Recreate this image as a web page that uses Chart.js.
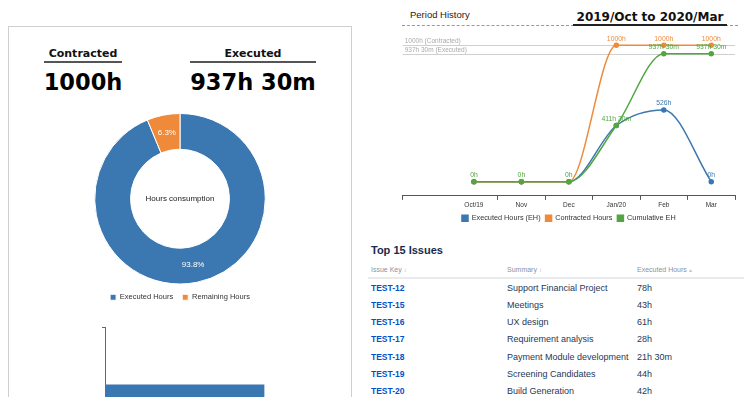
<!DOCTYPE html>
<html>
<head>
<meta charset="utf-8">
<script src="https://cdn.jsdelivr.net/npm/chart.js@4"></script>
<style>
  html, body { margin: 0; padding: 0; background: #fff; }
  body { width: 744px; height: 397px; overflow: hidden; position: relative; font-family: "Liberation Sans", Arial, sans-serif; }
  .abs { position: absolute; white-space: nowrap; height: 14px; line-height: 14px; }
  .panel { position: absolute; left: 8px; top: 26px; width: 342px; height: 420px; border: 1px solid #cfcfcf; }
  .kpiHead { font-family: "DejaVu Sans", sans-serif; font-weight: bold; font-size: 11px; color: #111; text-align: center; }
  .kpiVal { font-family: "DejaVu Sans", sans-serif; font-weight: bold; font-size: 22.5px; color: #000; text-align: center; height: 30px; line-height: 30px; }
  .rule { position: absolute; height: 2px; background: #555; }
  .th { font-size: 7px; color: #8993a4; }
  .th i { font-style: normal; color: #c1c7d0; font-size: 6px; }
  .key { font-size: 8.5px; color: #0052cc; font-weight: bold; }
  .cell { font-size: 9px; color: #253858; }
</style>
</head>
<body>
<div class="panel"></div>

<div class="abs kpiHead" style="left:33px;width:100px;top:47px;">Contracted</div>
<div class="rule" style="left:44px;width:78px;top:61px;"></div>
<div class="abs kpiVal" style="left:23px;width:120px;top:67px;" id="contractedTotal"></div>

<div class="abs kpiHead" style="left:193px;width:120px;top:47px;">Executed</div>
<div class="rule" style="left:190px;width:126px;top:61px;"></div>
<div class="abs kpiVal" style="left:173px;width:160px;top:67px;" id="executedTotal"></div>

<canvas id="consumptionChart" class="abs" width="220" height="198" style="left:70px;top:113px;height:198px;"></canvas>
<canvas id="membersChart" class="abs" width="175" height="200" style="left:100px;top:322px;height:200px;"></canvas>

<div class="abs" style="left:410px;top:8px;font-size:9.5px;color:#222;">Period History</div>
<div class="abs" style="left:402px;top:25px;width:336px;height:0;border-top:1px dashed #999;"></div>
<div class="abs" style="left:572px;top:10px;width:156px;text-align:center;font-family:'DejaVu Sans',sans-serif;font-weight:bold;font-size:12px;color:#111;">2019/Oct to 2020/Mar</div>
<div class="rule" style="left:573px;width:154px;top:24px;background:#222;"></div>

<canvas id="historyChart" class="abs" width="352" height="204" style="left:392px;top:28px;height:204px;"></canvas>

<div class="abs" style="left:371px;top:243px;font-size:11px;font-weight:bold;color:#172b4d;">Top 15 Issues</div>
<div class="abs th" style="left:371px;top:263px;">Issue Key <i>↕</i></div>
<div class="abs th" style="left:507px;top:263px;">Summary <i>↕</i></div>
<div class="abs th" style="left:637px;top:263px;">Executed Hours <i>▴</i></div>
<div class="abs" style="left:368px;top:277px;width:380px;height:0;border-top:2px solid #e8eaee;"></div>
<div id="issueRows"></div>

<script>
// Values
const contractedTotal = 1000;
const executedTotal = 937.5;

const consumptionLabels = ['Executed Hours', 'Remaining Hours'];
const consumptionValues = [937.5, 62.5];

// first slot is an empty lead-in column, like the original axis
const months = ['', 'Oct/19', 'Nov', 'Dec', 'Jan/20', 'Feb', 'Mar'];
const executedHours = [null, 0, 0, 0, 411.5, 526, 0];
const contractedHours = [null, 0, 0, 0, 1000, 1000, 1000];
const cumulativeHours = [null, 0, 0, 0, 411.5, 937.5, 937.5];
const referenceValues = [1000, 937.5];
const referenceNames = ['Contracted', 'Executed'];

const issueKeys = ['TEST-12', 'TEST-15', 'TEST-16', 'TEST-17', 'TEST-18', 'TEST-19', 'TEST-20'];
const issueSummaries = ['Support Financial Project', 'Meetings', 'UX design', 'Requirement analysis',
    'Payment Module development', 'Screening Candidates', 'Build Generation'];
const issueHours = [78, 43, 61, 28, 21.5, 44, 42];

const blue = '#3b77b0';
const orange = '#ef8a3a';
const green = '#52a640';
const chartFont = '"Liberation Sans", Arial, sans-serif';

// 411.5 -> "411h 30m"
function fmtHours(v) {
    const h = Math.floor(v);
    const m = Math.round((v - h) * 60);
    return m ? `${h}h ${m}m` : `${h}h`;
}

document.getElementById('contractedTotal').textContent = fmtHours(contractedTotal);
document.getElementById('executedTotal').textContent = fmtHours(executedTotal);

// Table rows
const rowsBox = document.getElementById('issueRows');
issueKeys.forEach((key, i) => {
    const top = 280.5 + i * 17.3;
    rowsBox.innerHTML += `
        <div class="abs key" style="left:371px;top:${top}px;">${key}</div>
        <div class="abs cell" style="left:507px;top:${top}px;">${issueSummaries[i]}</div>
        <div class="abs cell" style="left:637px;top:${top}px;">${fmtHours(issueHours[i])}</div>`;
});

// Doughnut: centre text and percentages
const donutText = {
    id: 'donutText',
    afterDatasetsDraw(chart) {
        const c = chart.ctx;
        const meta = chart.getDatasetMeta(0);
        const total = consumptionValues.reduce((a, b) => a + b, 0);
        c.save();
        c.textAlign = 'center';
        c.textBaseline = 'middle';
        c.font = `8px ${chartFont}`;
        c.fillStyle = '#fff';
        meta.data.forEach((arc, i) => {
            const p = arc.tooltipPosition();
            c.fillText((consumptionValues[i] / total * 100).toFixed(1) + '%', p.x, p.y);
        });
        const first = meta.data[0];
        c.fillStyle = '#222';
        c.fillText('Hours consumption', first.x, first.y);
        c.restore();
    }
};

new Chart(document.getElementById('consumptionChart'), {
    type: 'doughnut',
    data: {
        labels: consumptionLabels,
        datasets: [{
            data: consumptionValues,
            backgroundColor: [blue, orange],
            borderColor: '#fff',
            borderWidth: 1
        }]
    },
    options: {
        responsive: false,
        animation: false,
        cutout: '58%',
        plugins: {
            legend: {
                position: 'bottom',
                labels: { boxWidth: 6, boxHeight: 6, padding: 9, color: '#333', font: { size: 7.5, family: chartFont } }
            },
            tooltip: { enabled: false }
        }
    },
    plugins: [donutText]
});

// Horizontal bar at the bottom (cut off by the window)
new Chart(document.getElementById('membersChart'), {
    type: 'bar',
    data: {
        labels: ['Executed Hours'],
        datasets: [{ data: [executedTotal], backgroundColor: blue, categoryPercentage: 1, barPercentage: 0.41 }]
    },
    options: {
        responsive: false,
        animation: false,
        indexAxis: 'y',
        layout: { padding: { left: 2, top: 5, right: 0 } },
        plugins: { legend: { display: false }, tooltip: { enabled: false } },
        scales: {
            x: { display: false, min: 0, max: 1000 },
            y: {
                grid: { drawOnChartArea: false, tickLength: 3, color: '#666' },
                border: { color: '#666' },
                ticks: { display: false }
            }
        }
    }
});

// History chart: reference lines and point labels
const referenceLines = {
    id: 'referenceLines',
    beforeDatasetsDraw(chart) {
        const c = chart.ctx;
        const area = chart.chartArea;
        const y = chart.scales.y;
        c.save();
        c.font = `6.5px ${chartFont}`;
        c.textBaseline = 'bottom';
        referenceValues.forEach((v, i) => {
            const py = Math.round(y.getPixelForValue(v)) + 0.5;
            c.strokeStyle = '#cfcfcf';
            c.lineWidth = 1;
            c.beginPath();
            c.moveTo(area.left, py);
            c.lineTo(area.right, py);
            c.stroke();
            c.fillStyle = '#aaa';
            c.fillText(`${fmtHours(v)} (${referenceNames[i]})`, area.left + 2, py - 1);
        });
        c.restore();
    }
};

const pointLabels = {
    id: 'pointLabels',
    afterDatasetsDraw(chart) {
        const c = chart.ctx;
        const placed = [];
        c.save();
        c.font = `6.8px ${chartFont}`;
        c.textAlign = 'center';
        c.textBaseline = 'bottom';
        // cumulative first, then contracted, then executed; overlapping labels are dropped
        [2, 1, 0].forEach(di => {
            const ds = chart.data.datasets[di];
            const meta = chart.getDatasetMeta(di);
            meta.data.forEach((pt, i) => {
                const v = ds.data[i];
                if (v === null) return;
                const txt = fmtHours(v);
                const w = c.measureText(txt).width;
                const box = { l: pt.x - w / 2, r: pt.x + w / 2, t: pt.y - 11, b: pt.y - 3 };
                if (placed.some(p => box.l < p.r && box.r > p.l && box.t < p.b && box.b > p.t)) return;
                placed.push(box);
                c.fillStyle = ds.borderColor;
                c.fillText(txt, pt.x, pt.y - 3);
            });
        });
        c.restore();
    }
};

const lineSet = (label, data, color, order) => ({
    label: label,
    data: data,
    order: order,
    borderColor: color,
    backgroundColor: color,
    borderWidth: 1.5,
    pointRadius: 2,
    pointHoverRadius: 2,
    cubicInterpolationMode: 'monotone'
});

new Chart(document.getElementById('historyChart'), {
    type: 'line',
    data: {
        labels: months,
        datasets: [
            lineSet('Executed Hours (EH)', executedHours, blue, 2),
            lineSet('Contracted Hours', contractedHours, orange, 1),
            lineSet('Cumulative EH', cumulativeHours, green, 0)
        ]
    },
    options: {
        responsive: false,
        animation: false,
        layout: { padding: { left: 10.7, right: 9, top: 1.6, bottom: 0 } },
        plugins: {
            legend: {
                position: 'bottom',
                labels: {
                    boxWidth: 6, boxHeight: 6, padding: 5, color: '#333',
                    font: { size: 7.3, family: chartFont },
                    sort: (a, b) => a.datasetIndex - b.datasetIndex
                }
            },
            tooltip: { enabled: false }
        },
        scales: {
            x: {
                offset: true,
                grid: {
                    offset: true,
                    drawOnChartArea: false,
                    tickLength: 4,
                    color: c => c.index === 1 ? 'rgba(0,0,0,0)' : '#555'
                },
                border: { color: '#555' },
                ticks: { color: '#333', padding: 1, font: { size: 6.5, family: chartFont } }
            },
            y: { display: false, min: -104, max: 1100 }
        }
    },
    plugins: [referenceLines, pointLabels]
});
</script>
</body>
</html>
